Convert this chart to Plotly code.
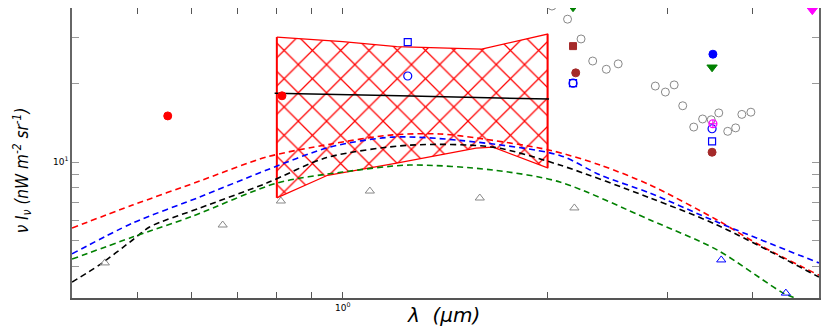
import plotly.graph_objects as go

# model curves (lambda in micron, nuI_nu in nW m^-2 sr^-1)
red_lam = [0.400, 0.491, 0.616, 0.773, 0.957, 1.184, 1.389, 1.574, 2.015, 2.39, 2.83, 3.55, 4.10, 5.01]
red_val = [5.60, 6.85, 8.46, 10.45, 11.7, 12.7, 12.8, 12.35, 11.1, 9.74, 8.17, 6.01, 4.82, 3.70]

blue_lam = [0.400, 0.491, 0.616, 0.773, 0.957, 1.184, 1.486, 2.085, 2.39, 2.83, 3.55, 5.01]
blue_val = [4.46, 5.85, 7.35, 9.32, 11.4, 12.45, 12.1, 10.6, 8.92, 7.61, 5.90, 4.12]

black_lam = [0.400, 0.439, 0.491, 0.520, 0.616, 0.773, 0.947, 1.255, 1.663, 2.085, 2.83, 3.55, 5.01]
black_val = [3.48, 4.05, 5.04, 5.65, 6.67, 8.31, 10.4, 11.6, 11.4, 9.74, 7.29, 5.75, 3.64]

green_lam = [0.400, 0.491, 0.602, 0.80, 1.0, 1.255, 1.663, 2.085, 2.83, 3.55, 4.44, 4.62]
green_val = [4.26, 5.17, 6.22, 8.31, 9.16, 9.74, 9.32, 8.39, 6.01, 4.62, 3.16, 3.03]

solid_lam = [0.794, 1.213, 2.01]
solid_val = [18.3, 17.9, 17.4]

# hatched band
band_top_lam = [0.80, 1.0, 1.2, 1.6, 2.0]
band_top_val = [30.0, 28.8, 27.6, 27.0, 30.8]
band_bot_lam = [0.80, 0.95, 1.2, 1.57, 1.663, 2.0]
band_bot_val = [7.3, 8.9, 9.9, 11.3, 11.4, 9.5]

# data points
gray_circ_lam = [2.03, 2.14, 2.24, 2.33, 2.44, 2.54, 2.88, 2.98, 3.07, 3.16, 3.28, 3.38, 3.48, 3.57, 3.68, 3.78, 3.86, 3.98]
gray_circ_val = [39.4, 35.1, 29.5, 24.3, 22.6, 23.7, 19.5, 18.5, 19.7, 16.4, 13.6, 14.6, 14.5, 15.4, 13.1, 13.5, 15.2, 15.5]

gray_tri_lam = [0.447, 0.666, 0.811, 1.096, 1.59, 2.19]
gray_tri_val = [4.12, 5.75, 7.10, 7.75, 7.29, 6.68]

blue_tri_lam = [3.60, 4.48]
blue_tri_val = [4.23, 3.16]

blue_sq_lam = [1.246, 2.18, 3.49]
blue_sq_val = [28.7, 20.0, 12.0]
blue_oc_lam = [1.246, 2.18, 3.49]
blue_oc_val = [21.3, 20.0, 13.4]

brown_c_lam = [2.20, 3.49]
brown_c_val = [21.9, 10.9]
brown_sq_lam = [2.18]
brown_sq_val = [27.7]

green_dn_lam = [2.18, 3.49]
green_dn_val = [39.0, 23.0]
blue_fc_lam = [3.50]
blue_fc_val = [25.8]
red_fc_lam = [0.553, 0.814]
red_fc_val = [15.0, 17.9]
mag_dn_lam = [4.90]
mag_dn_val = [38.0]
mag_x_lam = [3.50]
mag_x_val = [14.0]

fig = go.Figure()

# hatched region
fig.add_trace(go.Scatter(x=band_top_lam + band_bot_lam[::-1],
                         y=band_top_val + band_bot_val[::-1],
                         mode="lines", fill="toself",
                         fillcolor="rgba(0,0,0,0)",
                         fillpattern=dict(shape="x", fgcolor="red", fgopacity=1,
                                          bgcolor="rgba(0,0,0,0)",
                                          size=20, solidity=0.12),
                         line=dict(color="red", width=1.2),
                         hoverinfo="skip"))
# thicker vertical edges
for lam, lo, hi in [(band_top_lam[0], band_bot_val[0], band_top_val[0]),
                    (band_top_lam[-1], band_bot_val[-1], band_top_val[-1])]:
    fig.add_trace(go.Scatter(x=[lam, lam], y=[lo, hi], mode="lines",
                             line=dict(color="red", width=2)))

def dashed(x, y, c):
    fig.add_trace(go.Scatter(x=x, y=y, mode="lines",
                             line=dict(color=c, width=1.6, dash="6px,4px", shape="spline", smoothing=0.8)))

dashed(red_lam, red_val, "red")
dashed(blue_lam, blue_val, "blue")
dashed(black_lam, black_val, "black")
dashed(green_lam, green_val, "green")

fig.add_trace(go.Scatter(x=solid_lam, y=solid_val, mode="lines",
                         line=dict(color="black", width=1.5, shape="spline")))

def pts(x, y, sym, c, size=8, lw=1):
    fig.add_trace(go.Scatter(x=x, y=y, mode="markers",
                             marker=dict(symbol=sym, color=c, size=size,
                                         line=dict(color=c, width=lw))))

pts(gray_circ_lam, gray_circ_val, "circle-open", "#888888", 8)
pts(gray_tri_lam, gray_tri_val, "triangle-up-open", "#888888", 8)
pts(blue_tri_lam, blue_tri_val, "triangle-up-open", "blue", 8)
pts(blue_sq_lam, blue_sq_val, "square-open", "blue", 7, 1.2)
pts(blue_oc_lam, blue_oc_val, "circle-open", "blue", 8, 1.2)
pts(brown_c_lam, brown_c_val, "circle", "#a52a2a", 8)
pts(brown_sq_lam, brown_sq_val, "square", "#a52a2a", 7)
pts(green_dn_lam, green_dn_val, "triangle-down", "green", 9)
pts(blue_fc_lam, blue_fc_val, "circle", "blue", 8)
pts(red_fc_lam, red_fc_val, "circle", "red", 8)
pts(mag_dn_lam, mag_dn_val, "triangle-down", "magenta", 9)
pts(mag_x_lam, mag_x_val, "circle-cross-open", "magenta", 8, 1.2)

x_ticks = [0.5, 0.6, 0.7, 0.8, 0.9, 1, 2, 3, 4]
y_ticks = [4, 5, 6, 7, 8, 9, 10, 20, 30]

# the page body adds 8px of margin, so the figure is a bit smaller than the window
fig.update_layout(
    width=823, height=319,
    margin=dict(l=64, r=12, t=0, b=29),
    paper_bgcolor="white", plot_bgcolor="white",
    showlegend=False,
    font=dict(family="DejaVu Sans", color="black"),
    xaxis=dict(type="log", range=[-0.398, 0.70], automargin=False,
               tickvals=x_ticks,
               ticktext=["10<sup>0</sup>" if t == 1 else "" for t in x_ticks],
               ticks="inside", ticklen=6, tickcolor="#555555",
               showline=True, linecolor="#555555", linewidth=1.5, mirror="ticks",
               showgrid=False, zeroline=False, tickfont=dict(size=9)),
    yaxis=dict(type="log", range=[0.481, 1.588], automargin=False,
               tickvals=y_ticks,
               ticktext=["10<sup>1</sup>" if t == 10 else "" for t in y_ticks],
               ticks="inside", ticklen=7, tickcolor="#999999",
               showline=True, linecolor="#666666", linewidth=1.5, mirror="ticks",
               showgrid=False, zeroline=False, tickfont=dict(size=9)),
    annotations=[
        dict(text="<i>λ  (μm)</i>", xref="paper", yref="paper", x=0.497, y=-0.06,
             xanchor="center", yanchor="middle", showarrow=False,
             font=dict(size=20, family="DejaVu Sans")),
        dict(text="<i>ν I<sub>ν</sub> (nW m<sup>-2</sup> sr<sup>-1</sup>)</i>",
             xref="paper", yref="paper", x=-0.067, y=0.44, textangle=-90,
             xanchor="center", yanchor="middle", showarrow=False,
             font=dict(size=17, family="DejaVu Sans Condensed")),
    ],
)

fig.write_html("out.html")
